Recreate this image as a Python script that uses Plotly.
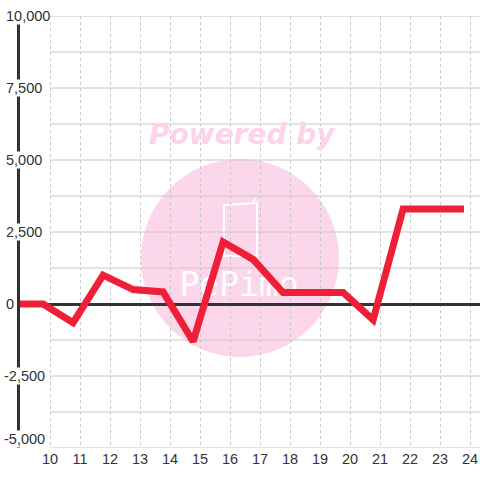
import plotly.graph_objects as go

# Data
x_vals = [8.77, 9.77, 10.77, 11.77, 12.77, 13.77, 14.77, 15.77, 16.77, 17.77,
          18.77, 19.77, 20.77, 21.77, 22.77, 23.8]
y_vals = [0, 0, -650, 1000, 500, 420, -1300, 2150, 1550, 400,
          400, 400, -550, 3300, 3300, 3300]
x_ticks = list(range(10, 25))
y_tick_vals = [10000, 7500, 5000, 2500, 0, -2500, -5000]
y_tick_text = ["10,000", "7,500", "5,000", "2,500", "0", "-2,500", "-5,000"]
y_grid_vals = [10000, 8750, 7500, 6250, 5000, 3750, 2500, 1250, -1250, -2500, -3750, -5000]

X_MIN, X_MAX = 9.0, 24.333
Y_MIN, Y_MAX = -5000, 10000
PINK = "#fcd6eb"

fig = go.Figure()

# watermark logo text (below data line)
fig.add_trace(go.Scatter(
    x=[16.3], y=[555], mode="text", text=["PePimo"],
    textfont=dict(family="DejaVu Sans Mono", size=33, color="white"),
    hoverinfo="skip", showlegend=False))

fig.add_trace(go.Scatter(
    x=x_vals, y=y_vals, mode="lines",
    line=dict(color="#ee1f36", width=7),
    hoverinfo="skip", showlegend=False))

shapes = []
# watermark circle
shapes.append(dict(type="circle", xref="paper", yref="paper",
                   x0=(141 - 20) / 460, x1=(339 - 20) / 460,
                   y0=(448 - 357) / 432, y1=(448 - 159) / 432,
                   fillcolor=PINK, line=dict(width=0), layer="below"))
# phone outline
shapes.append(dict(type="path", xref="paper", yref="paper",
                   path="M %f %f L %f %f L %f %f L %f %f Z" % (
                       (224 - 20) / 460, (448 - 205) / 432,
                       (257 - 20) / 460, (448 - 203) / 432,
                       (257 - 20) / 460, (448 - 256) / 432,
                       (224 - 20) / 460, (448 - 256) / 432),
                   line=dict(color="white", width=2), layer="below"))
shapes.append(dict(type="line", xref="paper", yref="paper",
                   x0=(253 - 20) / 460, x1=(256 - 20) / 460,
                   y0=(448 - 202) / 432, y1=(448 - 198) / 432,
                   line=dict(color="white", width=2), layer="below"))
# horizontal gridlines starting at x=10
for gv in y_grid_vals:
    shapes.append(dict(type="line", xref="x", yref="y",
                       x0=10, x1=X_MAX, y0=gv, y1=gv,
                       line=dict(color="#c8c8c8", width=1), layer="below"))
fig.update_layout(shapes=shapes)

annotations = [dict(x=16.4, y=5900, xref="x", yref="y", text="<b><i>Powered by</i></b>",
                    showarrow=False, font=dict(family="DejaVu Sans", size=28, color="#fcd3e9"))]
for v, t in zip(y_tick_vals, y_tick_text):
    annotations.append(dict(x=-15 / 460 if not t.startswith("-") else -17 / 460,
                            y=v, xref="paper", yref="y", text=t,
                            xanchor="left",
                            yanchor="bottom" if v == Y_MIN else "middle",
                            showarrow=False,
                            bgcolor="white", borderpad=0,
                            font=dict(family="Liberation Sans, Arial", size=14.5, color="#333333")))
fig.update_layout(annotations=annotations)

fig.update_layout(
    width=480, height=480,
    margin=dict(l=20, r=0, t=16, b=32),
    paper_bgcolor="white", plot_bgcolor="white",
    xaxis=dict(range=[X_MIN, X_MAX], tickvals=x_ticks,
               ticktext=[str(t) for t in x_ticks],
               showgrid=True, gridcolor="#c8c8c8", griddash="dot", gridwidth=1,
               zeroline=False, showline=False, ticks="",
               tickfont=dict(family="Liberation Sans, Arial", size=14.5, color="#333333")),
    yaxis=dict(range=[Y_MIN, Y_MAX], showgrid=False, showticklabels=False,
               zeroline=True, zerolinecolor="#333333", zerolinewidth=3,
               showline=True, linecolor="#333333", linewidth=3, ticks=""),
)

fig.write_html("out.html", config={"displayModeBar": False},
               post_script="document.body.style.margin='0';document.body.style.padding='0';")
